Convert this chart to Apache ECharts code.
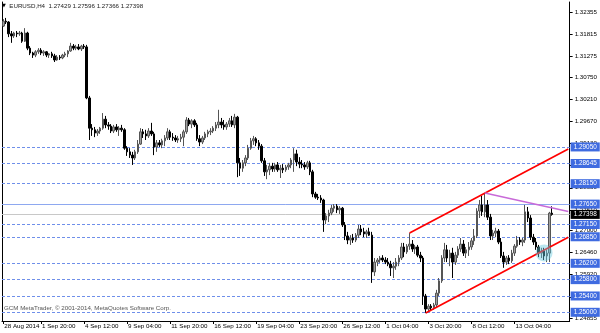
<!DOCTYPE html>
<html><head><meta charset="utf-8">
<script src="https://cdn.jsdelivr.net/npm/echarts@6.0.0/dist/echarts.min.js"></script>
<style>html,body{margin:0;padding:0;background:#fff}#c{width:600px;height:333px}</style>
</head><body><div id="c"></div>
<script>
// EURUSD H4 candles (prices)
const opens = [
1.3201,1.3213,1.3211,1.3182,1.3177,1.3184,1.3182,1.3184,1.3164,1.3184,
1.3147,1.3135,1.3130,1.3138,1.3142,1.3135,1.3138,1.3130,1.3133,1.3128,
1.3118,1.3125,1.3123,1.3130,1.3133,1.3140,1.3152,1.3147,1.3150,1.3145,
1.3152,1.3150,1.3025,1.2951,1.2947,1.2939,1.2944,1.2951,1.2973,1.2959,
1.2956,1.2944,1.2954,1.2947,1.2951,1.2947,1.2902,1.2893,1.2885,1.2878,
1.2893,1.2912,1.2942,1.2937,1.2932,1.2944,1.2937,1.2905,1.2915,1.2910,
1.2920,1.2927,1.2942,1.2929,1.2927,1.2922,1.2925,1.2929,1.2942,1.2971,
1.2961,1.2969,1.2959,1.2925,1.2917,1.2927,1.2937,1.2942,1.2944,1.2951,
1.2959,1.2966,1.2959,1.2954,1.2961,1.2969,1.2959,1.2978,1.2866,1.2853,
1.2866,1.2878,1.2902,1.2920,1.2925,1.2915,1.2907,1.2871,1.2844,1.2849,
1.2858,1.2851,1.2861,1.2849,1.2853,1.2849,1.2856,1.2861,1.2873,1.2888,
1.2868,1.2863,1.2861,1.2856,1.2866,1.2844,1.2790,1.2782,1.2780,1.2775,
1.2726,1.2736,1.2743,1.2755,1.2760,1.2751,1.2755,1.2714,1.2687,1.2677,
1.2682,1.2677,1.2689,1.2704,1.2697,1.2692,1.2697,1.2689,1.2599,1.2623,
1.2628,1.2633,1.2628,1.2623,1.2618,1.2609,1.2613,1.2623,1.2633,1.2660,
1.2648,1.2662,1.2667,1.2655,1.2660,1.2640,1.2633,1.2540,1.2508,1.2515,
1.2511,1.2518,1.2547,1.2577,1.2633,1.2653,1.2633,1.2645,1.2623,1.2640,
1.2655,1.2667,1.2645,1.2653,1.2660,1.2675,1.2687,1.2748,1.2763,1.2746,
1.2763,1.2733,1.2687,1.2694,1.2699,1.2672,1.2638,1.2623,1.2633,1.2626,
1.2645,1.2662,1.2677,1.2672,1.2677,1.2746,1.2731,1.2684,1.2672,1.2660,
1.2645,1.2650,1.2638,1.2645,1.27429];
const highs = [
1.3218,1.3221,1.3213,1.3189,1.3187,1.3189,1.3189,1.3187,1.3196,1.3187,
1.3152,1.3138,1.3142,1.3147,1.3147,1.3142,1.3140,1.3135,1.3138,1.3133,
1.3130,1.3130,1.3133,1.3138,1.3142,1.3160,1.3157,1.3155,1.3157,1.3155,
1.3157,1.3155,1.3030,1.2961,1.2954,1.2949,1.2954,1.2988,1.2981,1.2966,
1.2961,1.2959,1.2961,1.2956,1.2959,1.2951,1.2907,1.2902,1.2893,1.2898,
1.2922,1.2951,1.2949,1.2947,1.2951,1.2964,1.2942,1.2922,1.2922,1.2925,
1.2934,1.2951,1.2947,1.2939,1.2934,1.2932,1.2937,1.2947,1.2978,1.2976,
1.2973,1.2973,1.2964,1.2934,1.2932,1.2942,1.2947,1.2951,1.2956,1.2966,
1.2996,1.2976,1.2971,1.2966,1.2976,1.2981,1.2986,1.2981,1.2878,1.2873,
1.2885,1.2910,1.2927,1.2932,1.2929,1.2922,1.2912,1.2878,1.2861,1.2866,
1.2866,1.2866,1.2868,1.2861,1.2863,1.2861,1.2866,1.2878,1.2902,1.2898,
1.2880,1.2873,1.2868,1.2871,1.2871,1.2849,1.2795,1.2790,1.2787,1.2778,
1.2743,1.2751,1.2763,1.2765,1.2765,1.2760,1.2758,1.2721,1.2697,1.2689,
1.2692,1.2694,1.2714,1.2714,1.2707,1.2702,1.2707,1.2697,1.2633,1.2633,
1.2638,1.2640,1.2635,1.2633,1.2626,1.2623,1.2633,1.2640,1.2670,1.2670,
1.2667,1.2694,1.2677,1.2665,1.2665,1.2648,1.2638,1.2545,1.2520,1.2520,
1.2523,1.2555,1.2584,1.2640,1.2670,1.2665,1.2653,1.2658,1.2648,1.2662,
1.2682,1.2677,1.2660,1.2672,1.2682,1.2704,1.2755,1.2775,1.2785,1.2792,
1.2775,1.2741,1.2702,1.2707,1.2704,1.2682,1.2648,1.2638,1.2640,1.2653,
1.2667,1.2687,1.2684,1.2682,1.2763,1.2758,1.2738,1.2692,1.2682,1.2665,
1.2658,1.2658,1.2653,1.2746,1.27596];
const lows = [
1.3199,1.3206,1.3174,1.3160,1.3172,1.3174,1.3177,1.3160,1.3162,1.3142,
1.3130,1.3123,1.3125,1.3133,1.3130,1.3128,1.3125,1.3123,1.3123,1.3113,
1.3116,1.3118,1.3120,1.3125,1.3125,1.3138,1.3142,1.3142,1.3142,1.3140,
1.3145,1.3022,1.2922,1.2932,1.2929,1.2932,1.2937,1.2947,1.2951,1.2947,
1.2939,1.2939,1.2942,1.2932,1.2942,1.2898,1.2883,1.2878,1.2861,1.2873,
1.2888,1.2910,1.2927,1.2922,1.2927,1.2932,1.2885,1.2893,1.2905,1.2902,
1.2907,1.2922,1.2922,1.2920,1.2917,1.2915,1.2917,1.2907,1.2937,1.2956,
1.2951,1.2954,1.2920,1.2907,1.2912,1.2922,1.2929,1.2934,1.2939,1.2944,
1.2951,1.2951,1.2947,1.2947,1.2954,1.2954,1.2951,1.2831,1.2834,1.2844,
1.2858,1.2873,1.2898,1.2910,1.2907,1.2898,1.2866,1.2834,1.2826,1.2836,
1.2844,1.2844,1.2844,1.2829,1.2841,1.2844,1.2849,1.2853,1.2844,1.2858,
1.2853,1.2853,1.2849,1.2851,1.2836,1.2782,1.2778,1.2775,1.2768,1.2697,
1.2716,1.2721,1.2738,1.2746,1.2743,1.2741,1.2709,1.2677,1.2667,1.2665,
1.2670,1.2672,1.2682,1.2689,1.2684,1.2682,1.2687,1.2572,1.2589,1.2613,
1.2621,1.2623,1.2618,1.2613,1.2589,1.2584,1.2604,1.2613,1.2628,1.2635,
1.2643,1.2653,1.2648,1.2643,1.2635,1.2623,1.2518,1.2498,1.2503,1.2503,
1.2506,1.2511,1.2540,1.2572,1.2623,1.2623,1.2613,1.2584,1.2616,1.2633,
1.2648,1.2638,1.2633,1.2638,1.2653,1.2665,1.2682,1.2731,1.2736,1.2733,
1.2726,1.2677,1.2677,1.2684,1.2667,1.2633,1.2609,1.2616,1.2618,1.2621,
1.2638,1.2658,1.2665,1.2662,1.2670,1.2721,1.2677,1.2665,1.2653,1.2635,
1.2633,1.2628,1.2623,1.2623,1.27366];
const closes = [
1.3213,1.3211,1.3182,1.3177,1.3184,1.3182,1.3184,1.3164,1.3184,1.3147,
1.3135,1.3130,1.3138,1.3142,1.3135,1.3138,1.3130,1.3133,1.3128,1.3118,
1.3125,1.3123,1.3130,1.3133,1.3140,1.3152,1.3147,1.3150,1.3145,1.3152,
1.3150,1.3025,1.2951,1.2947,1.2939,1.2944,1.2951,1.2973,1.2959,1.2956,
1.2944,1.2954,1.2947,1.2951,1.2947,1.2902,1.2893,1.2885,1.2878,1.2893,
1.2912,1.2942,1.2937,1.2932,1.2944,1.2937,1.2905,1.2915,1.2910,1.2920,
1.2927,1.2942,1.2929,1.2927,1.2922,1.2925,1.2929,1.2942,1.2971,1.2961,
1.2969,1.2959,1.2925,1.2917,1.2927,1.2937,1.2942,1.2944,1.2951,1.2959,
1.2966,1.2959,1.2954,1.2961,1.2969,1.2959,1.2978,1.2866,1.2853,1.2866,
1.2878,1.2902,1.2920,1.2925,1.2915,1.2907,1.2871,1.2844,1.2849,1.2858,
1.2851,1.2861,1.2849,1.2853,1.2849,1.2856,1.2861,1.2873,1.2888,1.2868,
1.2863,1.2861,1.2856,1.2866,1.2844,1.2790,1.2782,1.2780,1.2775,1.2726,
1.2736,1.2743,1.2755,1.2760,1.2751,1.2755,1.2714,1.2687,1.2677,1.2682,
1.2677,1.2689,1.2704,1.2697,1.2692,1.2697,1.2689,1.2599,1.2623,1.2628,
1.2633,1.2628,1.2623,1.2618,1.2609,1.2613,1.2623,1.2633,1.2660,1.2648,
1.2662,1.2667,1.2655,1.2660,1.2640,1.2633,1.2540,1.2508,1.2515,1.2511,
1.2518,1.2547,1.2577,1.2633,1.2653,1.2633,1.2645,1.2623,1.2640,1.2655,
1.2667,1.2645,1.2653,1.2660,1.2675,1.2687,1.2748,1.2763,1.2746,1.2763,
1.2733,1.2687,1.2694,1.2699,1.2672,1.2638,1.2623,1.2633,1.2626,1.2645,
1.2662,1.2677,1.2672,1.2677,1.2746,1.2731,1.2684,1.2672,1.2660,1.2645,
1.2650,1.2638,1.2645,1.2743,1.27398];

// time-axis labels by bar number (16 H4 bars apart)
const tickLabels = {
  0: '28 Aug 2014', 14: '1 Sep 20:00', 30: '4 Sep 12:00', 46: '9 Sep 04:00',
  62: '11 Sep 20:00', 78: '16 Sep 12:00', 94: '19 Sep 04:00', 110: '23 Sep 20:00',
  126: '26 Sep 12:00', 142: '1 Oct 04:00', 158: '3 Oct 20:00', 174: '8 Oct 12:00',
  190: '13 Oct 04:00'
};
const barSlots = 211; // includes empty chart shift on the right

// price scale
const priceTicks = [1.32355,1.31815,1.31275,1.30750,1.30210,1.29670,1.29130,1.28590,
                    1.28050,1.27510,1.27000,1.26460,1.25920,1.25380,1.24855];
const priceMin = 1.24787, priceMax = 1.32600;

// horizontal levels
const dashedLevels = [1.29050,1.28645,1.28150,1.27150,1.26850,1.26200,1.25800,1.25400,1.25000];
const solidLevel = 1.27650;

// trend lines [bar, price]
const upperChannel = [[151,1.2694],[210,1.2900]];
const lowerChannel = [[157,1.2498],[210,1.2684]];
const resistanceLine = [[179,1.2792],[210,1.2747]];
const highlightPoint = [[201,1.2645]];

const symbolName = 'EURUSD,H4';

const FONT = 'Liberation Sans';
const categories = [];
for (let i = 0; i < barSlots; i++) categories.push(String(i));
const candles = opens.map((o, i) => [o, closes[i], lows[i], highs[i]]);
const last = opens.length - 1;
const lastPrice = closes[last];
const headerText = symbolName + '  ' + [opens[last], highs[last], lows[last], closes[last]].map(v => v.toFixed(5)).join(' ');

const showTick = (idx) => tickLabels[idx] !== undefined;
const boxLabel = (bg) => ({
  show: true, position: 'end', distance: 1,
  formatter: (p) => Number(p.value).toFixed(5),
  color: '#fff', backgroundColor: bg, padding: [1, 3, 1, 3],
  fontSize: 6.4, fontFamily: FONT, lineHeight: 7
});

const chart = echarts.init(document.getElementById('c'), null, {renderer: 'canvas'});
chart.setOption({
  animation: false,
  backgroundColor: '#fff',
  title: [
    {text: '{t|▼}  ' + headerText, left: 2, top: 3, padding: 0,
     textStyle: {fontSize: 6.2, fontWeight: 'normal', color: '#222', fontFamily: FONT,
                 rich: {t: {fontSize: 5, color: '#000', fontFamily: 'DejaVu Sans'}}}},
    {text: 'GCM MetaTrader, © 2001-2014, MetaQuotes Software Corp.', left: 4, top: 305, padding: 0,
     textStyle: {fontSize: 6.2, fontWeight: 'normal', color: '#555', fontFamily: FONT}}
  ],
  grid: {left: 2, right: 29, top: 2, bottom: 12, containLabel: false},
  xAxis: {
    type: 'category', data: categories, boundaryGap: true,
    axisLine: {show: true, lineStyle: {color: '#000', width: 1}},
    axisTick: {show: true, interval: showTick, alignWithLabel: true, length: 3, lineStyle: {color: '#000'}},
    axisLabel: {interval: showTick, formatter: (v, idx) => tickLabels[idx] || '', align: 'left',
                fontSize: 6.2, fontFamily: FONT, color: '#000', margin: 2, padding: [0, 0, 0, 1]},
    splitLine: {show: false}
  },
  yAxis: [
    {type: 'value', position: 'right', min: priceMin, max: priceMax,
     axisLine: {show: true, lineStyle: {color: '#000'}},
     axisTick: {show: true, customValues: priceTicks, length: 3, lineStyle: {color: '#000'}},
     axisLabel: {customValues: priceTicks, formatter: (v) => v.toFixed(5), fontSize: 6.2,
                 fontFamily: FONT, color: '#000', margin: 5},
     splitLine: {show: false}},
    {type: 'value', position: 'left', min: priceMin, max: priceMax,
     axisLine: {show: true, lineStyle: {color: '#000'}},
     axisTick: {show: false}, axisLabel: {show: false}, splitLine: {show: false}}
  ],
  series: [
    {type: 'candlestick', data: candles, barWidth: 2, yAxisIndex: 0, z: 3,
     itemStyle: {color: '#a0a0a0', color0: '#000', borderColor: '#555', borderColor0: '#000', borderWidth: 1},
     markLine: {
       symbol: 'none', silent: true, animation: false, precision: 5, z: 1,
       data: [
         ...dashedLevels.map(v => ({yAxis: v, lineStyle: {type: [3, 2], color: '#6f8fea', width: 1}, label: boxLabel('#3f6be0')})),
         {yAxis: solidLevel, lineStyle: {type: 'solid', color: '#8ea8f0', width: 1}, label: boxLabel('#3f6be0')},
         {yAxis: lastPrice, lineStyle: {type: 'solid', color: '#c8c8c8', width: 1}, label: boxLabel('#000')}
       ]
     }},
    {type: 'line', data: upperChannel, showSymbol: false, z: 4, lineStyle: {color: '#ff0000', width: 1.7}},
    {type: 'line', data: lowerChannel, showSymbol: false, z: 4, lineStyle: {color: '#ff0000', width: 1.7}},
    {type: 'line', data: resistanceLine, showSymbol: false, z: 4, lineStyle: {color: '#c86ad8', width: 1.5}},
    {type: 'scatter', data: highlightPoint, symbolSize: 17, z: 5,
     itemStyle: {color: 'rgba(100,200,220,0.55)'}}
  ]
});
</script></body></html>
